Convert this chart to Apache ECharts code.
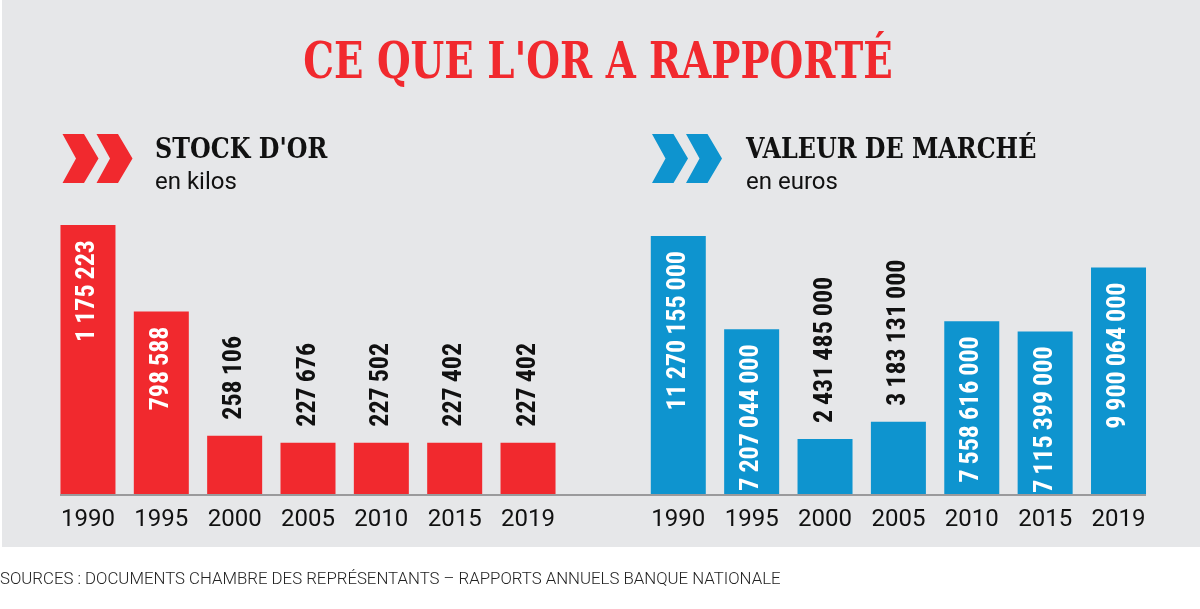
<!DOCTYPE html>
<html>
<head>
<meta charset="utf-8">
<script src="https://cdn.jsdelivr.net/npm/echarts@6/dist/echarts.min.js"></script>
<style>
html,body{margin:0;padding:0;background:#ffffff;}
#chart{width:1200px;height:609px;}
</style>
</head>
<body>
<div id="chart"></div>
<script>
// ---- data ----
const years = ['1990', '1995', '2000', '2005', '2010', '2015', '2019'];
const stockKilos = [1175223, 798588, 258106, 227676, 227502, 227402, 227402];
const marketValueEuros = [11270155000, 7207044000, 2431485000, 3183131000, 7558616000, 7115399000, 9900064000];

const mainTitle = "CE QUE L'OR A RAPPORTÉ";
const leftTitle = "STOCK D'OR";
const leftUnit = "en kilos";
const rightTitle = "VALEUR DE MARCHÉ";
const rightUnit = "en euros";
const sourceText = "SOURCES : DOCUMENTS CHAMBRE DES REPRÉSENTANTS – RAPPORTS ANNUELS BANQUE NATIONALE";

// ---- style ----
const RED = '#f1292e';
const BLUE = '#0e94cf';
const BG = '#e6e7e9';
const SLAB = '"DejaVu Serif Condensed", "DejaVu Serif", serif';
const NARROW = '"Liberation Sans Narrow", "Roboto Condensed", "DejaVu Sans Condensed", sans-serif';
const SANS = 'Roboto, "Liberation Sans", sans-serif';

function fmt(v) {
  return String(v).replace(/\B(?=(\d{3})+(?!\d))/g, '\u2009');
}

function buildData(values, color) {
  const max = Math.max(...values);
  return values.map(v => {
    const inside = v / max > 0.45;
    return {
      value: v,
      itemStyle: { color: color },
      label: inside ? {
        position: 'insideTop', rotate: 90, align: 'right', verticalAlign: 'middle',
        distance: 15, color: '#ffffff'
      } : {
        position: 'top', rotate: 90, align: 'left', verticalAlign: 'middle',
        distance: 16, color: '#111111'
      }
    };
  });
}

function chevrons(x0, color) {
  const shapes = [];
  [0, 34].forEach(dx => {
    const x = x0 + dx;
    shapes.push({
      type: 'polygon',
      shape: { points: [[x, 134], [x + 21.5, 134], [x + 36, 158.5], [x + 21.5, 183], [x, 183], [x + 13.5, 158.5]] },
      style: { fill: color }
    });
  });
  return shapes;
}

const chart = echarts.init(document.getElementById('chart'), null, { renderer: 'canvas' });

const labelCommon = {
  show: true,
  fontFamily: NARROW,
  fontWeight: 'bold',
  fontSize: 26,
  formatter: p => fmt(p.value)
};

const xAxisCommon = {
  type: 'category',
  data: years,
  axisLine: { show: false },
  axisTick: { show: false },
  axisLabel: { color: '#111111', fontFamily: SANS, fontSize: 24, margin: 13 }
};

const option = {
  backgroundColor: '#ffffff',
  animation: false,
  graphic: [
    { type: 'rect', z: -10, shape: { x: 2, y: 0, width: 1198, height: 547 }, style: { fill: BG } },
    { type: 'text', x: 598, y: 64.5, scaleY: 1.18, style: { text: mainTitle, x: 0, y: 0, textAlign: 'center', textVerticalAlign: 'middle', font: 'bold 43px ' + SLAB, fill: RED } },
    ...chevrons(62.5, RED),
    ...chevrons(652, BLUE),
    { type: 'text', x: 155, y: 151, scaleY: 1.08, style: { text: leftTitle, x: 0, y: 0, textAlign: 'left', textVerticalAlign: 'middle', font: 'bold 26.5px ' + SLAB, fill: '#111111' } },
    { type: 'text', style: { text: leftUnit, x: 155, y: 183, textAlign: 'left', textVerticalAlign: 'middle', font: '24px ' + SANS, fill: '#111111' } },
    { type: 'text', x: 746, y: 151, scaleY: 1.08, style: { text: rightTitle, x: 0, y: 0, textAlign: 'left', textVerticalAlign: 'middle', font: 'bold 26.5px ' + SLAB, fill: '#111111' } },
    { type: 'text', style: { text: rightUnit, x: 746, y: 183, textAlign: 'left', textVerticalAlign: 'middle', font: '24px ' + SANS, fill: '#111111' } },
    { type: 'line', z: 5, shape: { x1: 60, y1: 495, x2: 1146, y2: 495 }, style: { stroke: '#9a9a9c', lineWidth: 2 } },
    { type: 'text', style: { text: sourceText, x: 0, y: 580, textAlign: 'left', textVerticalAlign: 'middle', font: '300 16.8px ' + SANS, fill: '#222222' } }
  ],
  grid: [
    { left: 51.3, width: 513.4, top: 225, bottom: 114 },
    { left: 641.6, width: 513.6, top: 236, bottom: 114 }
  ],
  xAxis: [
    Object.assign({ gridIndex: 0 }, xAxisCommon),
    Object.assign({ gridIndex: 1 }, xAxisCommon)
  ],
  yAxis: [
    { gridIndex: 0, type: 'value', min: 0, max: Math.max(...stockKilos), show: false, splitLine: { show: false } },
    { gridIndex: 1, type: 'value', min: 0, max: Math.max(...marketValueEuros), show: false, splitLine: { show: false } }
  ],
  series: [
    { type: 'bar', xAxisIndex: 0, yAxisIndex: 0, barWidth: 55, data: buildData(stockKilos, RED), label: labelCommon },
    { type: 'bar', xAxisIndex: 1, yAxisIndex: 1, barWidth: 55, data: buildData(marketValueEuros, BLUE), label: labelCommon }
  ]
};

chart.setOption(option);
</script>
</body>
</html>
